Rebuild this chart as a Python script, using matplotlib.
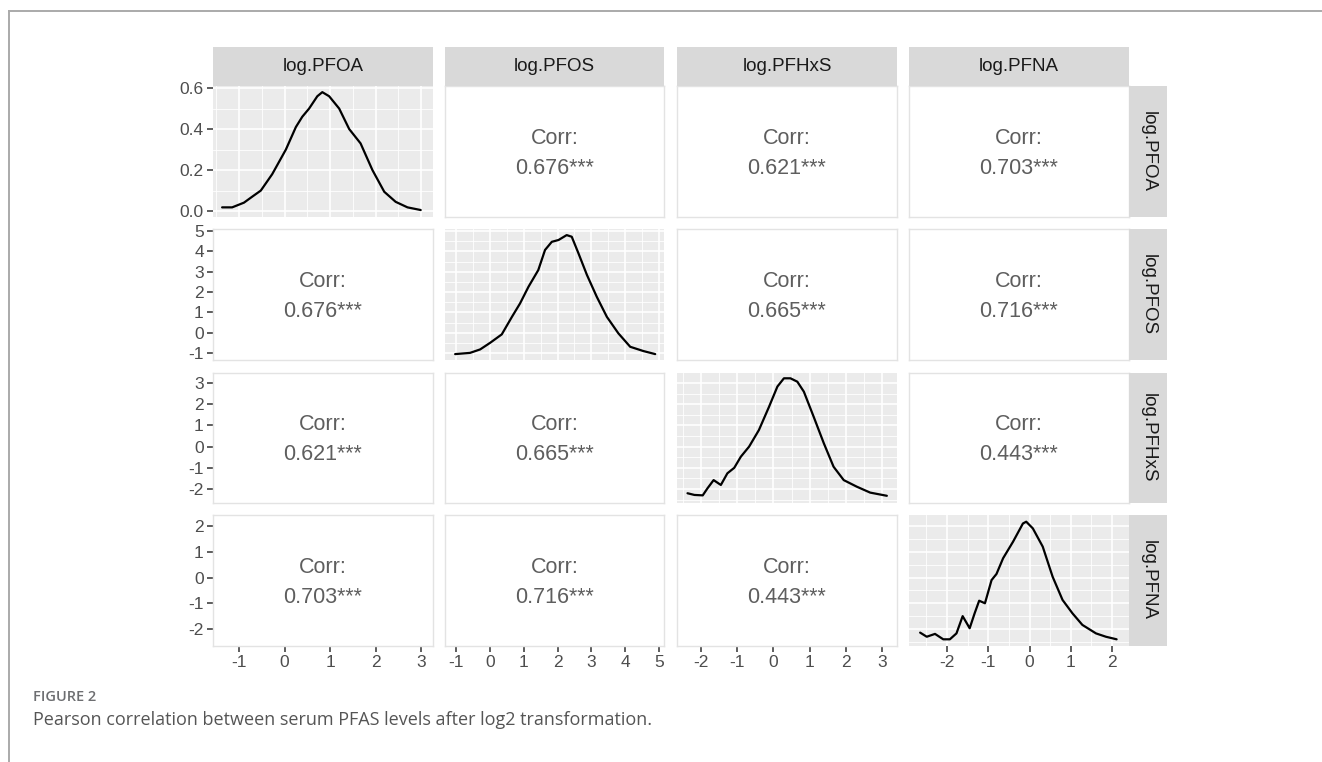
import matplotlib
matplotlib.use("Agg")
import matplotlib.pyplot as plt
from matplotlib.lines import Line2D
from matplotlib.ticker import MultipleLocator, FormatStrFormatter

plt.rcParams["font.family"] = ["Liberation Sans", "DejaVu Sans"]
plt.rcParams["axes.unicode_minus"] = False

W, H = 1322, 762

variables = ["log.PFOA", "log.PFOS", "log.PFHxS", "log.PFNA"]

# Pearson r for each pair (i < j)
corr_pairs = [(0, 1), (0, 2), (0, 3), (1, 2), (1, 3), (2, 3)]
corr_r = [0.676, 0.621, 0.703, 0.665, 0.716, 0.443]

# Kernel density of log.PFOA (density scale)
pfoa_x = [-1.37, -1.15, -0.89, -0.71, -0.52, -0.27, 0.03, 0.25, 0.39, 0.54, 0.72,
          0.83, 0.98, 1.20, 1.42, 1.67, 1.93, 2.19, 2.44, 2.70, 2.99]
pfoa_d = [0.018, 0.018, 0.041, 0.07, 0.10, 0.18, 0.30, 0.41, 0.46, 0.50, 0.56,
          0.58, 0.56, 0.50, 0.40, 0.33, 0.20, 0.094, 0.045, 0.018, 0.005]

# Densities of the other variables, rescaled to the variable's range
pfos_x = [-1.03, -0.59, -0.29, 0.01, 0.35, 0.65, 0.89, 1.14, 1.43, 1.63, 1.83,
          2.03, 2.27, 2.42, 2.62, 2.87, 3.16, 3.46, 3.80, 4.15, 4.54, 4.89]
pfos_d = [-1.05, -0.99, -0.82, -0.49, -0.08, 0.78, 1.44, 2.26, 3.08, 4.07, 4.47,
          4.56, 4.80, 4.72, 3.90, 2.84, 1.77, 0.78, -0.03, -0.69, -0.90, -1.05]

pfhxs_x = [-2.37, -2.18, -1.95, -1.82, -1.65, -1.45, -1.27, -1.08, -0.90, -0.67,
           -0.40, -0.12, 0.11, 0.29, 0.47, 0.66, 0.84, 1.11, 1.39, 1.66, 1.94,
           2.30, 2.67, 3.13]
pfhxs_d = [-2.20, -2.28, -2.30, -1.97, -1.58, -1.81, -1.26, -1.00, -0.48, 0.00,
           0.78, 1.88, 2.83, 3.22, 3.22, 3.06, 2.59, 1.41, 0.16, -0.95, -1.58,
           -1.89, -2.17, -2.32]

pfna_x = [-2.65, -2.49, -2.29, -2.09, -1.93, -1.77, -1.62, -1.45, -1.33, -1.22,
          -1.08, -0.92, -0.80, -0.64, -0.40, -0.16, -0.08, 0.08, 0.32, 0.56,
          0.80, 1.04, 1.28, 1.61, 1.85, 2.11]
pfna_d = [-2.14, -2.30, -2.19, -2.40, -2.40, -2.17, -1.50, -1.97, -1.39, -0.90,
          -1.00, -0.10, 0.14, 0.75, 1.39, 2.10, 2.17, 1.91, 1.20, 0.03,
          -0.87, -1.39, -1.84, -2.17, -2.30, -2.40]

diag_curves = [(pfoa_x, pfoa_d), (pfos_x, pfos_d), (pfhxs_x, pfhxs_d), (pfna_x, pfna_d)]

x_ticks = [[-1, 0, 1, 2, 3], [-1, 0, 1, 2, 3, 4, 5], [-2, -1, 0, 1, 2, 3], [-2, -1, 0, 1, 2]]
y_ticks = [[0.0, 0.2, 0.4, 0.6], [-1, 0, 1, 2, 3, 4, 5], [-2, -1, 0, 1, 2, 3], [-2, -1, 0, 1, 2]]

# layout (pixel boxes of the panel grid)
col_px = [(213, 433), (445, 664), (677, 897), (909, 1129)]
row_px = [(86, 217), (229, 360), (373, 503), (515, 646)]
x_lims = [(-1.57, 3.26), (-1.33, 5.15), (-2.66, 3.41), (-2.92, 2.41)]
y_lims = [(-0.029, 0.61), (-1.34, 5.10), (-2.66, 3.47), (-2.66, 2.43)]
major_step = [1, 1, 1, 1]
y_major_step = [0.2, 1, 1, 1]

STRIP = "#D9D9D9"
PANEL = "#EBEBEB"
TICK_COL = "#333333"
LABEL_COL = "#4D4D4D"

fig = plt.figure(figsize=(W / 100, H / 100), dpi=100)


def px_axes(x0, y0, x1, y1):
    return fig.add_axes([x0 / W, 1 - y1 / H, (x1 - x0) / W, (y1 - y0) / H])


for i in range(4):
    for j in range(4):
        x0, x1 = col_px[j]
        y0, y1 = row_px[i]
        ax = px_axes(x0, y0, x1, y1)
        ax.set_xlim(*x_lims[j])
        ax.set_ylim(*y_lims[i])
        ax.tick_params(which="minor", length=0)
        ax.tick_params(which="major", length=4.0, width=1.1, color=TICK_COL,
                       labelcolor=LABEL_COL, labelsize=12.5, pad=2.6)

        if i == j:
            ax.set_facecolor(PANEL)
            for s in ax.spines.values():
                s.set_visible(False)
            ax.set_axisbelow(True)
            cx, cy = diag_curves[i]
            ax.plot(cx, cy, color="black", lw=1.6, solid_capstyle="round",
                    solid_joinstyle="round")
        else:
            ax.set_facecolor("white")
            for s in ax.spines.values():
                s.set_color("#E3E3E3")
                s.set_linewidth(1.0)
            a, b = min(i, j), max(i, j)
            r = corr_r[corr_pairs.index((a, b))]
            ax.text(0.5, 0.60, "Corr:", transform=ax.transAxes, ha="center",
                    va="center", fontsize=15.5, color="#5E5E5E")
            ax.text(0.5, 0.37, f"{r:.3f}***", transform=ax.transAxes, ha="center",
                    va="center", fontsize=15.5, color="#5E5E5E")

        ax.xaxis.set_major_locator(MultipleLocator(major_step[j]))
        ax.yaxis.set_major_locator(MultipleLocator(y_major_step[i]))
        ax.xaxis.set_minor_locator(MultipleLocator(major_step[j] / 2))
        ax.yaxis.set_minor_locator(MultipleLocator(y_major_step[i] / 2))
        if i == j:
            ax.grid(True, which="major", color="white", lw=1.2)
            ax.grid(True, which="minor", color="white", lw=0.6)

        if j == 0:
            if i == 0:
                ax.yaxis.set_major_formatter(FormatStrFormatter("%.1f"))
            else:
                ax.yaxis.set_major_formatter(FormatStrFormatter("%d"))
        else:
            ax.tick_params(axis="y", which="both", left=False, labelleft=False)
        if i == 3:
            ax.xaxis.set_major_formatter(FormatStrFormatter("%d"))
        else:
            ax.tick_params(axis="x", which="both", bottom=False, labelbottom=False)

# column strips
for j, name in enumerate(variables):
    x0, x1 = col_px[j]
    sax = px_axes(x0, 47, x1, 86)
    sax.set_facecolor(STRIP)
    sax.set_xticks([]); sax.set_yticks([])
    for s in sax.spines.values():
        s.set_visible(False)
    sax.text(0.5, 0.5, name, ha="center", va="center", fontsize=13.5,
             color="#1A1A1A", transform=sax.transAxes)

# row strips
for i, name in enumerate(variables):
    y0, y1 = row_px[i]
    sax = px_axes(1129, y0, 1167, y1)
    sax.set_facecolor(STRIP)
    sax.set_xticks([]); sax.set_yticks([])
    for s in sax.spines.values():
        s.set_visible(False)
    sax.text(0.5, 0.5, name, ha="center", va="center", fontsize=13.5, rotation=-90,
             color="#1A1A1A", transform=sax.transAxes)

# page frame
fig.add_artist(Line2D([9 / W, 1], [1 - 11 / H, 1 - 11 / H], color="#AAAAAA", lw=1.4))
fig.add_artist(Line2D([9 / W, 9 / W], [0, 1 - 11 / H], color="#AAAAAA", lw=1.4))

# caption
fig.text(33 / W, 1 - 697 / H, "FIGURE 2", fontsize=10.5, color="#6D6E71",
         fontweight="semibold", family=["Open Sans", "DejaVu Sans"],
         va="center", ha="left")
fig.text(33 / W, 1 - 720 / H,
         "Pearson correlation between serum PFAS levels after log2 transformation.",
         fontsize=13, color="#555555", family=["Open Sans", "DejaVu Sans"],
         va="center", ha="left")

fig.savefig("out.png", dpi=100)
